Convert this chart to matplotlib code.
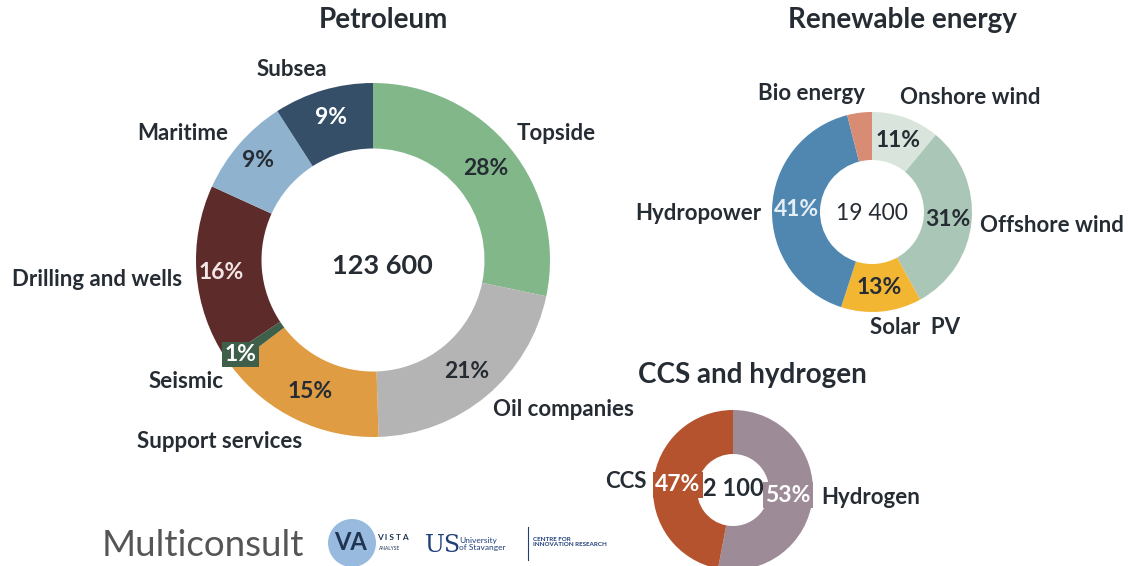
import numpy as np
import matplotlib.pyplot as plt
from matplotlib.patches import Circle

plt.rcParams['font.family'] = ['Lato', 'DejaVu Sans']

# Petroleum (clockwise from top)
pet_labels = ["Topside", "Oil companies", "Support services", "Seismic",
              "Drilling and wells", "Maritime", "Subsea"]
pet_values = [28, 21, 15, 1, 16, 9, 9]
pet_total = "123 600"

# Renewable energy
ren_labels = ["Onshore wind", "Offshore wind", "Solar  PV", "Hydropower", "Bio energy"]
ren_values = [11, 31, 13, 41, 4]
ren_total = "19 400"

# CCS and hydrogen
ccs_labels = ["Hydrogen", "CCS"]
ccs_values = [53, 47]
ccs_total = "2 100"

# ---- layout / style ----
W, H = 1128, 566
DARK = "#262c33"
LAB_FS = 16
PCT_FS = 16.5
TITLE_FS = 20

pet_colors = ["#82b78a", "#b4b4b4", "#e09c43", "#3e5f4a", "#5e2b2b", "#8fb3cf", "#364f69"]
pet_pct_col = [DARK, DARK, DARK, "white", "#f2e6e6", DARK, "white"]
pet_label_pos = [(556, 133), (563, 410), (220, 442), (186, 381), (97, 280), (183, 133), (292, 70)]

ren_colors = ["#d9e4dc", "#a9c6b6", "#f2b633", "#5087b1", "#d98c74"]
ren_pct_col = [DARK, DARK, DARK, "#e6eef5", DARK]
ren_label_pos = [(970, 98), (1052, 225), (915, 328), (698, 214), (812, 94)]

ccs_colors = ["#9d8b97", "#b5532f"]
ccs_label_pos = [(871, 498), (626, 481)]


def Y(y):
    return H - y


fig = plt.figure(figsize=(W / 100, H / 100), dpi=100)
ax = fig.add_axes([0, 0, 1, 1])


def donut(values, colors, cx, cy, R, ratio, rf, pct_colors, boxes=None, hide=()):
    wedges, _ = ax.pie(values, colors=colors, startangle=90, counterclock=False,
                       radius=R, center=(cx, Y(cy)),
                       wedgeprops=dict(width=R * (1 - ratio), linewidth=0))
    tot = sum(values)
    for i, (w, v) in enumerate(zip(wedges, values)):
        if i in hide:
            continue
        mid = np.deg2rad((w.theta1 + w.theta2) / 2)
        r = R * (rf[i] if isinstance(rf, (list, tuple)) else rf)
        x = cx + r * np.cos(mid)
        y = Y(cy) + r * np.sin(mid)
        kw = {}
        if boxes and i in boxes:
            kw['bbox'] = dict(boxstyle="square,pad=0.1", fc=colors[i], ec="none")
        ax.text(x, y, f"{round(v / tot * 100)}%", ha='center', va='center',
                fontsize=PCT_FS, fontweight='bold', color=pct_colors[i], zorder=4, **kw)
    return wedges


# Petroleum
donut(pet_values, pet_colors, 373, 260, 177, 0.63,
      [0.82, 0.82, 0.82, 0.92, 0.86, 0.86, 0.84], pet_pct_col, boxes={3})
ax.text(382, Y(266), pet_total, ha='center', va='center', fontsize=19.5,
        fontweight='bold', color=DARK)
for lab, (x, y) in zip(pet_labels, pet_label_pos):
    ax.text(x, Y(y), lab, ha='center', va='center', fontsize=LAB_FS,
            fontweight='bold', color=DARK)
ax.text(383, Y(20), "Petroleum", ha='center', va='center', fontsize=TITLE_FS,
        fontweight='bold', color=DARK)

# Renewable energy
donut(ren_values, ren_colors, 872, 212, 100, 0.52, 0.76, ren_pct_col, hide=(4,))
ax.text(872, Y(213), ren_total, ha='center', va='center', fontsize=16.5,
        color=DARK)
for lab, (x, y) in zip(ren_labels, ren_label_pos):
    ax.text(x, Y(y), lab, ha='center', va='center', fontsize=LAB_FS,
            fontweight='bold', color=DARK)
ax.text(902, Y(20), "Renewable energy", ha='center', va='center', fontsize=TITLE_FS,
        fontweight='bold', color=DARK)

# CCS and hydrogen
donut(ccs_values, ccs_colors, 733, 490, 80, 0.45, 0.69, ["white", "white"],
      boxes={0, 1})
ax.text(733, Y(488), ccs_total, ha='center', va='center', fontsize=17,
        fontweight='bold', color=DARK, zorder=5)
for lab, (x, y) in zip(ccs_labels, ccs_label_pos):
    ax.text(x, Y(y), lab, ha='center', va='center', fontsize=LAB_FS,
            fontweight='bold', color=DARK)
ax.text(752, Y(375), "CCS and hydrogen", ha='center', va='center', fontsize=TITLE_FS,
        fontweight='bold', color=DARK)

# logos (approximated with text)
ax.text(102, Y(545), "Multiconsult", ha='left', va='center', fontsize=26.5,
        color="#555555")
ax.add_patch(Circle((352, Y(543)), 24, fc="#7fa9d6", ec="none", alpha=0.8))
ax.text(350, Y(543), "VA", ha='center', va='center', fontsize=17,
        fontweight='bold', color="#1f3552")
ax.text(377, Y(538), "V I S T A", ha='left', va='center', fontsize=6,
        fontweight='bold', color="#1f3552")
ax.text(379, Y(549), "ANALYSE", ha='left', va='center', fontsize=3.5,
        color="#1f3552")
ax.text(443, Y(545), "US", ha='center', va='center', fontsize=17,
        family='DejaVu Serif', color="#1f3f7a")
ax.text(459, Y(544), "University\nof Stavanger", ha='left', va='center',
        fontsize=6, color="#1f3f7a", linespacing=1.0)
ax.plot([528, 528], [Y(527), Y(560)], color="#1f3f7a", lw=0.8)
ax.text(533, Y(542), "CENTRE FOR\nINNOVATION RESEARCH", ha='left', va='center',
        fontsize=4.5, fontweight='bold', color="#1f3f7a", linespacing=1.1)

ax.set_xlim(0, W)
ax.set_ylim(0, H)
ax.set_aspect('equal')
ax.axis('off')

fig.savefig("out.png", dpi=100)
